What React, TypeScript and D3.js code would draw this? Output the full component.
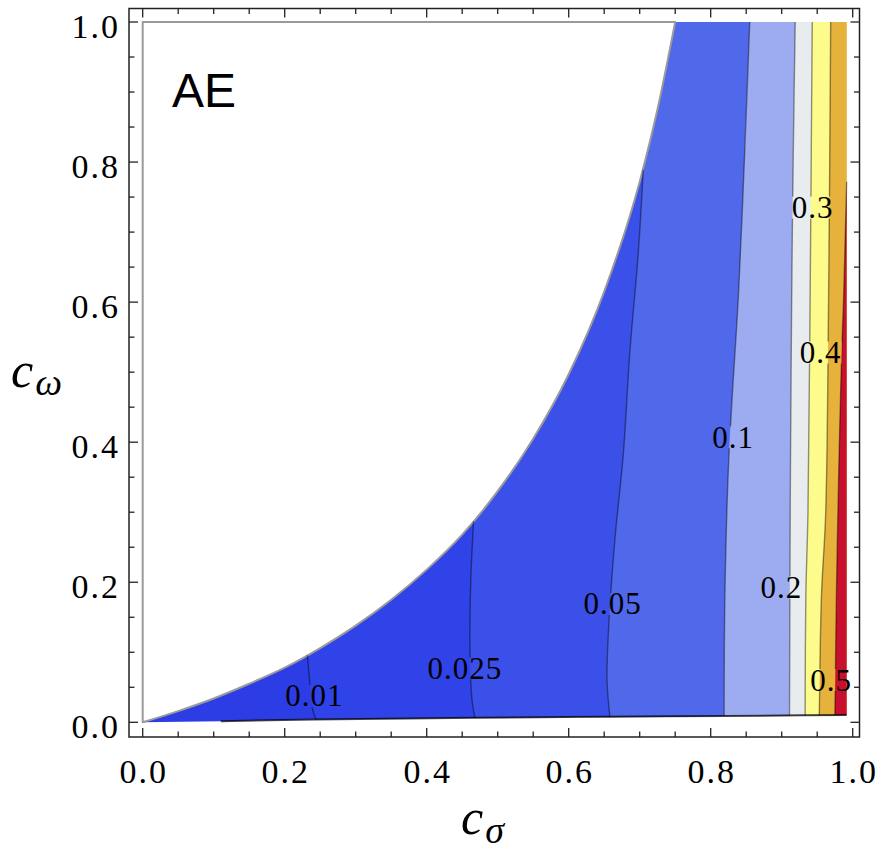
import React from "react";
import * as d3 from "d3";

type P = [number, number];

// ---- data ----
const majorTicks = [0, 0.2, 0.4, 0.6, 0.8, 1.0];
const majorTickLabels = ["0.0", "0.2", "0.4", "0.6", "0.8", "1.0"];
const minorTicks = [0.05, 0.1, 0.15, 0.25, 0.3, 0.35, 0.45, 0.5, 0.55, 0.65, 0.7, 0.75, 0.85, 0.9, 0.95];

const contourLevels = ["0.01", "0.025", "0.05", "0.1", "0.2", "0.3", "0.4", "0.5"];
const bandColors = ["#2c3de6", "#3043e8", "#3a50e8", "#5068ea", "#9dacf0", "#e8ecef", "#fdfb8c", "#e7b23c", "#c8102e"];

// edge of the (white) excluded region
const boundary: P[] = [[0, 0], [0.05, 0.016], [0.1, 0.034], [0.15, 0.055], [0.2, 0.078], [0.25, 0.106], [0.3, 0.138], [0.35, 0.175], [0.4, 0.218], [0.45, 0.268], [0.5, 0.33], [0.55, 0.405], [0.6, 0.497], [0.65, 0.615], [0.7, 0.772], [0.725, 0.875], [0.75, 1.0]];
// lower edge of the filled region
const bottomEdge: P[] = [[0, 0], [0.11, 0.0015], [0.24, 0.004], [0.47, 0.0065], [0.66, 0.008], [0.82, 0.009], [0.9915, 0.0105]];
const rightEdge = 0.9915;
const bottomLineStart = 0.11;

const contour001: P[] = [[0.232, 0.0955], [0.235, 0.06], [0.239, 0.02], [0.244, 0.004]];
const contour0025: P[] = [[0.466, 0.287], [0.462, 0.2], [0.461, 0.1], [0.464, 0.03], [0.468, 0.0065]];
const contour005: P[] = [[0.705, 0.789], [0.698, 0.67], [0.686, 0.527], [0.677, 0.384], [0.665, 0.26], [0.656, 0.13], [0.654, 0.06], [0.658, 0.008]];
const contour01: P[] = [[0.855, 1.0], [0.848, 0.817], [0.839, 0.608], [0.83, 0.46], [0.825, 0.365], [0.82, 0.18], [0.819, 0.009]];
const contour02: P[] = [[0.919, 1.0], [0.916, 0.79], [0.914, 0.6], [0.912, 0.3], [0.911, 0.0095]];
const contour03: P[] = [[0.943, 1.0], [0.94, 0.6], [0.937, 0.3], [0.934, 0.18], [0.933, 0.0097]];
const contour04: P[] = [[0.969, 1.0], [0.966, 0.6], [0.962, 0.3], [0.956, 0.18], [0.953, 0.01]];
const contour05: P[] = [[0.9915, 0.772], [0.987, 0.6], [0.9845, 0.53], [0.98, 0.34], [0.977, 0.18], [0.975, 0.0103]];
const contours = [contour001, contour0025, contour005, contour01, contour02, contour03, contour04, contour05];

// contour label centres in data coordinates
const labelX = [0.241, 0.453, 0.661, 0.831, 0.899, 0.943, 0.954, 0.969];
const labelY = [0.0376, 0.0768, 0.169, 0.407, 0.1925, 0.735, 0.528, 0.0604];

// ---- layout ----
const W = 878, H = 851;
const x = d3.scaleLinear().domain([0, 1]).range([142.7, 852.7]);
const y = d3.scaleLinear().domain([0, 1]).range([722.3, 22]);
const frame = { left: 129, right: 859.5, top: 8.5, bottom: 737 };
const serif = "'Liberation Serif', 'Times New Roman', serif";
const sans = "'Liberation Sans', Arial, sans-serif";

const smooth = d3.line<P>().x(d => x(d[0])).y(d => y(d[1])).curve(d3.curveCatmullRom.alpha(0.5));
const monoX = d3.line<P>().x(d => x(d[0])).y(d => y(d[1])).curve(d3.curveMonotoneX);
const straight = d3.line<P>().x(d => x(d[0])).y(d => y(d[1]));

function bandPath(pts: P[]): string {
  const top = pts[0];
  const bot = pts[pts.length - 1];
  let d = smooth(pts) as string;
  bottomEdge.filter(p => p[0] > bot[0]).forEach(p => { d += `L${x(p[0])},${y(p[1])}`; });
  d += `L${x(rightEdge)},${y(1)}`;
  d += `L${x(top[0])},${y(1)}`;
  return d + "Z";
}

const basePath = (straight([...bottomEdge, [rightEdge, 1], [0, 1]] as P[]) as string) + "Z";
const whitePath = (monoX(boundary) as string) + `L${x(0)},${y(1)}L${x(0)},${y(0)}Z`;
const bottomLine = monoX(bottomEdge.filter(p => p[0] >= bottomLineStart)) as string;

const labelFont = 31;
function labelWidth(s: string) {
  let w = 0;
  for (const ch of s) w += ch === "." ? 0.25 : 0.5;
  return w * labelFont + s.length * 1;
}

export default function App() {
  return (
    <svg width={W} height={H} style={{ position: "absolute", left: 0, top: 0, background: "#fff" }}>
      <defs>
        <mask id="lblmask" maskUnits="userSpaceOnUse" x={0} y={0} width={W} height={H}>
          <rect x={0} y={0} width={W} height={H} fill="#fff" />
          {contourLevels.map((s, i) => {
            const w = labelWidth(s) + 2;
            return <rect key={s} x={x(labelX[i]) - w / 2} y={y(labelY[i]) - 11} width={w} height={22} fill="#000" />;
          })}
        </mask>
      </defs>

      {/* filled bands */}
      <path d={basePath} fill={bandColors[0]} />
      {contours.map((c, i) => (
        <path key={i} d={bandPath(c)} fill={bandColors[i + 1]} />
      ))}

      {/* excluded region */}
      <path d={whitePath} fill="#fff" stroke="#9a9a9a" strokeWidth={2} strokeLinejoin="round" />

      {/* contour lines */}
      <g mask="url(#lblmask)" fill="none" stroke="rgba(0,0,0,0.42)" strokeWidth={1.4}>
        {contours.map((c, i) => (
          <path key={i} d={smooth(c) as string} />
        ))}
      </g>
      <path d={bottomLine} fill="none" stroke="rgba(0,0,0,0.72)" strokeWidth={2} />

      {/* contour labels */}
      {contourLevels.map((s, i) => (
        <text key={s} x={x(labelX[i]) + 0.5} y={y(labelY[i]) + 10.5} textAnchor="middle" fontFamily={serif} fontSize={labelFont} letterSpacing={1} fill="#000">{s}</text>
      ))}

      {/* frame */}
      <rect x={frame.left} y={frame.top} width={frame.right - frame.left} height={frame.bottom - frame.top} fill="none" stroke="#222" strokeWidth={1.5} />
      {[...majorTicks.map(v => ({ v, len: 9 })), ...minorTicks.map(v => ({ v, len: 5.5 }))].map(({ v, len }, i) => (
        <g key={i} stroke="#222" strokeWidth={1.3}>
          <line x1={x(v)} x2={x(v)} y1={frame.bottom} y2={frame.bottom - len} />
          <line x1={x(v)} x2={x(v)} y1={frame.top} y2={frame.top + len} />
          <line y1={y(v)} y2={y(v)} x1={frame.left} x2={frame.left + len} />
          <line y1={y(v)} y2={y(v)} x1={frame.right} x2={frame.right - len} />
        </g>
      ))}

      {/* tick labels */}
      {majorTicks.map((v, i) => (
        <text key={"bx" + i} x={x(v) + 1} y={783} textAnchor="middle" fontFamily={serif} fontSize={34} letterSpacing={2} fill="#000">{majorTickLabels[i]}</text>
      ))}
      {majorTicks.map((v, i) => (
        <text key={"ly" + i} x={120} y={y(v) + 15.5} textAnchor="end" fontFamily={serif} fontSize={34} letterSpacing={2} fill="#000">{majorTickLabels[i]}</text>
      ))}

      {/* axis titles */}
      <text x={461} y={834} fontFamily={serif} fontStyle="italic" fontSize={50} fill="#000">
        c<tspan fontSize={38} dx={2} dy={9}>σ</tspan>
      </text>
      <text x={11} y={387} fontFamily={serif} fontStyle="italic" fontSize={50} fill="#000">
        c<tspan fontSize={38} dx={2} dy={8}>ω</tspan>
      </text>

      {/* panel label */}
      <text x={172} y={107} fontFamily={sans} fontSize={48} fill="#000">AE</text>
    </svg>
  );
}
